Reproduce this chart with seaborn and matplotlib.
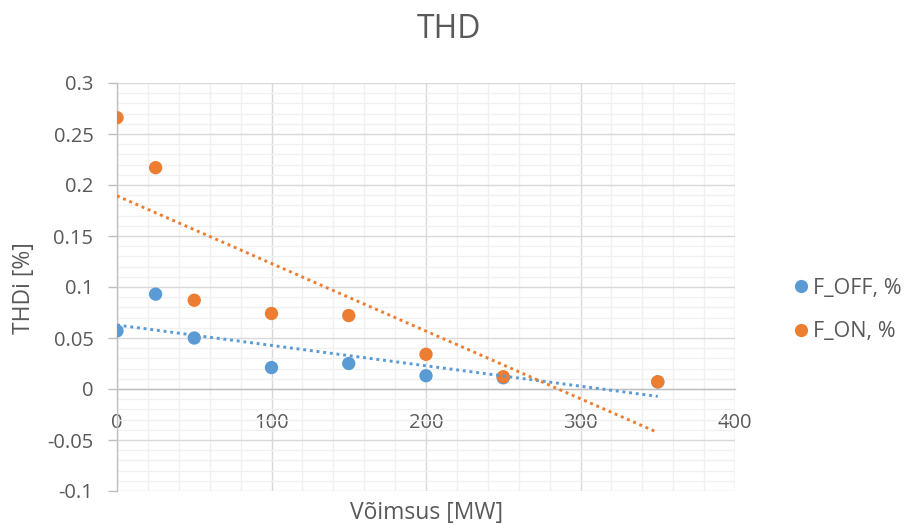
import numpy as np
import pandas as pd
import matplotlib
matplotlib.use("Agg")
import matplotlib.pyplot as plt
from matplotlib.ticker import MultipleLocator, FuncFormatter
from matplotlib.lines import Line2D
import seaborn as sns

# ---- data ----
power_mw = [0, 25, 50, 100, 150, 200, 250, 350]
f_off = [0.057, 0.093, 0.050, 0.021, 0.025, 0.013, 0.011, 0.007]
f_on = [0.266, 0.217, 0.087, 0.074, 0.072, 0.034, 0.012, 0.007]
series_names = ["F_OFF, %", "F_ON, %"]
series_colors = ["#5B9BD5", "#ED7D31"]
x_ticks = [0, 100, 200, 300, 400]
y_ticks = [-0.1, -0.05, 0, 0.05, 0.1, 0.15, 0.2, 0.25, 0.3]

df = pd.DataFrame({
    "power": power_mw * 2,
    "thd": f_off + f_on,
    "series": [series_names[0]] * len(power_mw) + [series_names[1]] * len(power_mw),
})

sns.set_theme(style="white")
plt.rcParams["font.family"] = ["Open Sans", "DejaVu Sans"]
text_color = "#595959"

fig = plt.figure(figsize=(9.05, 5.25), dpi=100)
ax = fig.add_axes([117 / 905, 1 - 491 / 525, (735 - 117) / 905, (491 - 83) / 525])

sns.scatterplot(data=df, x="power", y="thd", hue="series",
                palette=dict(zip(series_names, series_colors)),
                s=92, edgecolor="none", legend=False, ax=ax, zorder=3)

# linear trendlines (fitted from the data, like Excel)
xs = np.array(power_mw, dtype=float)
for vals, col in zip([f_off, f_on], series_colors):
    k, b = np.polyfit(xs, np.array(vals), 1)
    xx = np.array([xs.min(), xs.max()])
    ax.plot(xx, k * xx + b, color=col, linestyle=(0, (1, 1.3)), linewidth=2.1, zorder=4)

ax.set_xlim(0, 400)
ax.set_ylim(-0.1, 0.3)
ax.xaxis.set_minor_locator(MultipleLocator(20))
ax.yaxis.set_minor_locator(MultipleLocator(0.01))
ax.set_yticks(y_ticks)
ax.set_xticks(x_ticks)
ax.yaxis.set_major_formatter(FuncFormatter(lambda v, p: f"{round(v, 3):g}".replace("\u2212", "-")))
ax.xaxis.set_major_formatter(FuncFormatter(lambda v, p: f"{int(round(v))}"))

ax.grid(which="major", color="#D9D9D9", linewidth=1.0)
ax.grid(which="minor", color="#F0F0F0", linewidth=1.0)
ax.set_axisbelow(True)

for s in ["top", "right"]:
    ax.spines[s].set_visible(False)
ax.spines["bottom"].set_position(("data", 0))
ax.spines["bottom"].set_color("#BFBFBF")
ax.spines["left"].set_color("#BFBFBF")
ax.spines["bottom"].set_linewidth(1.0)
ax.spines["left"].set_linewidth(1.0)

ax.tick_params(axis="x", which="major", length=0, pad=17.5, labelsize=14.5, labelcolor=text_color)
ax.tick_params(axis="y", which="major", length=6.5, width=1, color="#BFBFBF", pad=10.5,
               labelsize=14.5, labelcolor=text_color, left=True)
ax.tick_params(which="minor", length=0)
ax.set_xlabel("")
ax.set_ylabel("")

fig.text(427 / 905, 1 - 513 / 525, "Võimsus [MW]", ha="center", va="center",
         fontsize=16.5, color=text_color)
fig.text(24 / 905, 1 - 288 / 525, "THDi [%]", ha="center", va="center",
         rotation=90, fontsize=16.5, color=text_color)
fig.text(449 / 905, 1 - 29 / 525, "THD", ha="center", va="center",
         fontsize=23, color=text_color)

handles = [Line2D([], [], marker="o", linestyle="none", markersize=9.5,
                  markerfacecolor=c, markeredgecolor="none") for c in series_colors]
fig.legend(handles, series_names, loc="center left",
           bbox_to_anchor=(795 / 905, 1 - 310 / 525), frameon=False,
           fontsize=15.5, labelcolor=text_color, handlelength=0.6,
           handletextpad=0.25, labelspacing=1.05, borderaxespad=0, borderpad=0)

fig.savefig("out.png", dpi=100)
